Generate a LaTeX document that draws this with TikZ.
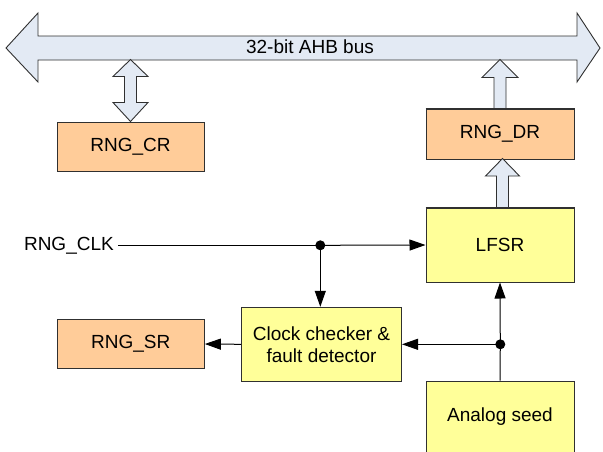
\documentclass[tikz,border=0pt]{standalone}
\usepackage{fontspec}
\setmainfont{Liberation Sans}
\usetikzlibrary{arrows.meta,calc}
\definecolor{peach}{HTML}{FFCC99}
\definecolor{lyellow}{HTML}{FFFF99}
\definecolor{busblue}{HTML}{E3EAF4}
\definecolor{edge}{HTML}{303030}
\begin{document}
\begin{tikzpicture}[x=1pt,y=-1pt,
  every node/.style={font=\fontsize{19}{22}\selectfont},
  regbox/.style={draw=edge,line width=1pt,fill=peach,minimum width=147pt,minimum height=49pt,inner sep=0pt},
  blockbox/.style={draw=edge,line width=1pt,fill=lyellow,inner sep=0pt,align=center},
  blockarrow/.style={draw=edge,line width=0.9pt,fill=busblue,line join=miter},
  sig/.style={draw=black,line width=1pt},
  tip/.style={-{Triangle[length=16pt,width=11pt]}},
  junc/.style={circle,fill=black,inner sep=0pt,minimum size=10pt}]
\useasboundingbox (0,0) rectangle (603,451);
% bus
\draw[blockarrow] (6,48) -- (38,13) -- (38,36) -- (577,36) -- (577,13) -- (600,48)
  -- (577,82) -- (577,60) -- (38,60) -- (38,82) -- cycle;
\node (bus) at (310,47) {32-bit AHB bus};
% nodes
\node[regbox] (cr) at (130.5,146.5) {RNG\_CR};
\node[regbox,minimum width=148pt,minimum height=50pt] (dr) at (500,134) {RNG\_DR};
\node[blockbox,minimum width=148pt,minimum height=74pt] (lfsr) at (500,245) {LFSR};
\node[blockbox,minimum width=160pt,minimum height=74pt] (chk) at (321.5,344.3) {Clock checker \&\\fault detector};
\node[regbox] (sr) at (130.8,344) {RNG\_SR};
\node[blockbox,minimum width=148pt,minimum height=71pt] (seed) at (500,416.7) {Analog seed};
\node[anchor=east,inner sep=4pt] (clkin) at (118,245.3) {RNG\_CLK};
% block arrows
\begin{scope}[shift={(cr.north)}]
\draw[blockarrow] (0,0) -- (-17.5,-19) -- (-6,-19) -- (-6,-45) -- (-17.5,-45) -- (0,-62)
  -- (17.5,-45) -- (6,-45) -- (6,-19) -- (17.5,-19) -- cycle;
\end{scope}
\begin{scope}[shift={(dr.north)}]
\draw[blockarrow] (-6,0) -- (-6,-31) -- (-18,-31) -- (0,-49) -- (18,-31) -- (6,-31) -- (6,0);
\end{scope}
\begin{scope}[shift={($(lfsr.north)+(2.5,0)$)}]
\draw[blockarrow] (-6,0) -- (-6,-31.5) -- (-17,-31.5) -- (0,-49) -- (17,-31.5) -- (6,-31.5) -- (6,0);
\end{scope}
% redraw box tops over arrows
\draw[draw=edge,line width=1pt] (dr.north west) -- (dr.north east);
\draw[draw=edge,line width=1pt] (lfsr.north west) -- (lfsr.north east);
% signals
\coordinate (j1) at (320.3,245.3);
\coordinate (j2) at (500.3,344.3);
\draw[sig] (clkin.east) -- (j1);
\draw[sig,tip] (j1) -- (lfsr.west);
\draw[sig,tip] (j1) -- (j1 |- chk.north);
\draw[sig] (seed.north) -- (j2);
\draw[sig,tip] (j2) -- (lfsr.south);
\draw[sig,tip] (j2) -- (chk.east);
\draw[sig,tip] (chk.west) -- (sr.east);
\node[junc] (d1) at (j1) {};
\node[junc] (d2) at (j2) {};
\end{tikzpicture}
\end{document}
